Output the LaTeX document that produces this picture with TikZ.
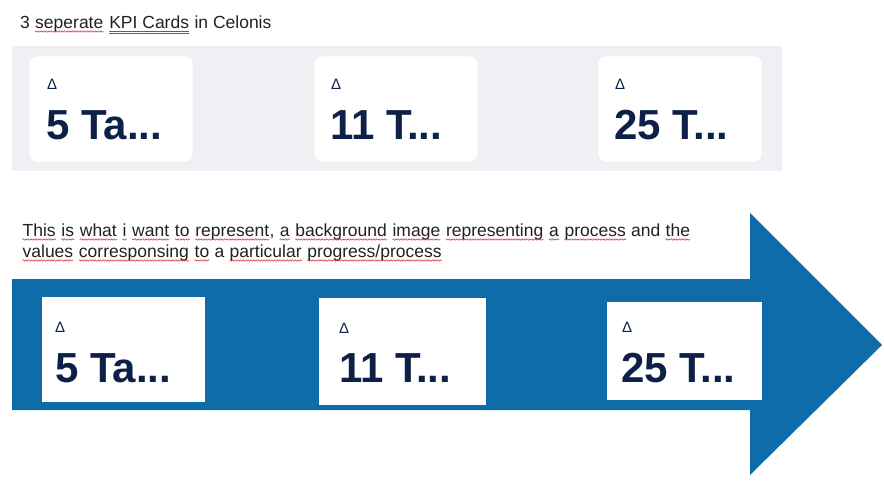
\documentclass[tikz,border=0pt]{standalone}
\usepackage{fontspec}
\usetikzlibrary{decorations.pathmorphing}
\setmainfont{Liberation Sans}
\setsansfont{Liberation Sans}
\definecolor{arrowblue}{HTML}{0E6CA8}
\definecolor{panelgray}{HTML}{F0F0F4}
\definecolor{kpinavy}{HTML}{0D2148}
\definecolor{bodytext}{HTML}{222222}
\definecolor{squig}{HTML}{D03030}
\definecolor{gramblue}{HTML}{2F66C8}
\newcommand{\sqw}[1]{\tikz[baseline=(w.base),x=1pt,y=1pt]{\node[inner sep=0pt,text=bodytext](w){#1};\draw[squig,line width=0.5pt,decorate,decoration={snake,amplitude=0.7pt,segment length=2.6pt}] ([yshift=-3.5pt]w.base west) -- ([yshift=-3.5pt]w.base east);}}
\newcommand{\dbl}[1]{\tikz[baseline=(w.base),x=1pt,y=1pt]{\node[inner sep=0pt,text=bodytext](w){#1};\draw[gramblue,line width=0.9pt] ([yshift=-3pt]w.base west) -- ([yshift=-3pt]w.base east);\draw[gramblue,line width=0.9pt] ([yshift=-5.2pt]w.base west) -- ([yshift=-5.2pt]w.base east);}}
\tikzset{
  plain/.style={anchor=base west, inner sep=0pt, text=bodytext, font=\fontsize{17.5}{21}\selectfont},
  cardtop/.style={fill=white, rounded corners=8pt, draw=black!6, line width=0.6pt},
  deltatext/.style={anchor=base west, inner sep=0pt, text=kpinavy, font=\fontsize{15}{17}\selectfont},
  kpitext/.style={anchor=base west, inner sep=0pt, text=kpinavy, font=\fontsize{42}{46}\selectfont\bfseries}
}
\begin{document}
\begin{tikzpicture}[x=1pt, y=-1pt]
\useasboundingbox (0,0) rectangle (884,482);
\fill[white] (0,0) rectangle (884,482);
% title
\node[plain] (title) at (20,28) {3 \sqw{seperate} \dbl{KPI Cards} in Celonis};
% panel
\fill[panelgray] (12,46) rectangle (782,171);
\draw[cardtop] (29,56) rectangle (193,162);
\draw[cardtop] (314,56) rectangle (478,162);
\draw[cardtop] (598,56) rectangle (762,162);
\node[deltatext] (d1) at (47,89) {Δ};
\node[deltatext] (d2) at (331,89) {Δ};
\node[deltatext] (d3) at (615,89) {Δ};
\node[kpitext] (k1) at (46,139) {5 Ta...};
\node[kpitext] (k2) at (330,139) {11 T...};
\node[kpitext] (k3) at (614,139) {25 T...};
% paragraph
\node[plain] (p1) at (22,236) {\sqw{This} \sqw{is} \sqw{what} \sqw{i} \sqw{want} \sqw{to} \sqw{represent}, \sqw{a} \sqw{background} \sqw{image} \sqw{representing} \sqw{a} \sqw{process} and \sqw{the}};
\node[plain] (p2) at (22,257) {\sqw{values} \sqw{corresponsing} \sqw{to} a \sqw{particular} \sqw{progress/process}};
% arrow
\fill[arrowblue] (12,279) -- (750,279) -- (750,213) -- (882,345) -- (750,475) -- (750,410) -- (12,410) -- cycle;
\fill[white] (42,297) rectangle (205,402);
\fill[white] (319,298) rectangle (486,405);
\fill[white] (607,302) rectangle (762,400);
\node[deltatext] (e1) at (55,332) {Δ};
\node[deltatext] (e2) at (339,333) {Δ};
\node[deltatext] (e3) at (622,332) {Δ};
\node[kpitext] (m1) at (55,382) {5 Ta...};
\node[kpitext] (m2) at (339,382) {11 T...};
\node[kpitext] (m3) at (621,382) {25 T...};
\end{tikzpicture}
\end{document}
